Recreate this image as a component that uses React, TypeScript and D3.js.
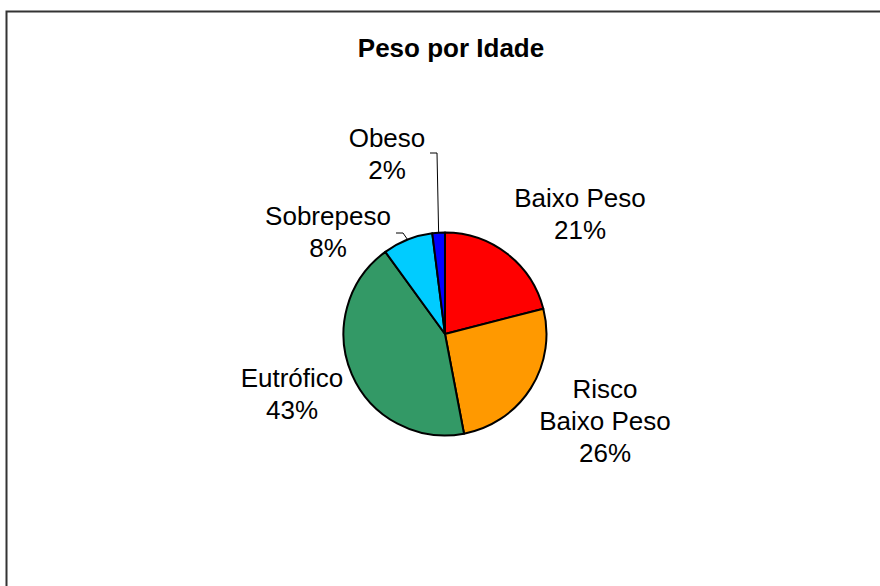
import React from "react";
import * as d3 from "d3";

const categories = ["Baixo Peso", "Risco Baixo Peso", "Eutrófico", "Sobrepeso", "Obeso"];
const values = [21, 26, 43, 8, 2];
const colors = ["#FF0000", "#FF9900", "#339966", "#00CCFF", "#0000FF"];
const labelLines = [["Baixo Peso"], ["Risco", "Baixo Peso"], ["Eutrófico"], ["Sobrepeso"], ["Obeso"]];

const W = 880;
const H = 586;
const CX = 445;
const CY = 334;
const R = 101.5;
const LINE = 32;

// label layout: center x and first baseline y, plus optional leader-line start
const labelLayout = [
  { x: 580, y: 207, leader: null },
  { x: 605, y: 398, leader: null },
  { x: 292, y: 387, leader: null },
  { x: 328, y: 225, leader: { x0: 396, y0: 233, x1: 403 } },
  { x: 387, y: 147, leader: { x0: 430, y0: 153, x1: 437 } },
];

export default function App() {
  const pie = d3.pie<number>().sort(null).value((d) => d);
  const arcs = pie(values);
  const arc = d3.arc<d3.PieArcDatum<number>>().innerRadius(0).outerRadius(R);
  const total = d3.sum(values);
  const font = "'Liberation Sans', Arial, Helvetica, sans-serif";

  return (
    <svg
      width={W}
      height={H}
      style={{ position: "absolute", left: 0, top: 0, display: "block", background: "#fff" }}
    >
      <rect x={0} y={0} width={W} height={H} fill="#fff" />
      <path d={`M6.5,${H} L6.5,11.5 L${W},11.5`} fill="none" stroke="#333" strokeWidth={2} />
      <text
        x={451}
        y={57}
        textAnchor="middle"
        fontFamily={font}
        fontWeight="bold"
        fontSize={26}
        fill="#000"
      >
        Peso por Idade
      </text>
      <g transform={`translate(${CX},${CY})`}>
        {arcs.map((a, i) => (
          <path key={categories[i]} d={arc(a) || ""} fill={colors[i]} stroke="#000" strokeWidth={2} strokeLinejoin="round" />
        ))}
      </g>
      {arcs.map((a, i) => {
        const L = labelLayout[i];
        const mid = (a.startAngle + a.endAngle) / 2;
        const ex = CX + R * Math.sin(mid);
        const ey = CY - R * Math.cos(mid);
        const pct = `${Math.round((values[i] / total) * 100)}%`;
        const lines = [...labelLines[i], pct];
        return (
          <g key={"l" + i}>
            {L.leader && (
              <polyline
                points={`${L.leader.x0},${L.leader.y0} ${L.leader.x1},${L.leader.y0} ${ex},${ey}`}
                fill="none"
                stroke="#000"
                strokeWidth={1}
              />
            )}
            <text textAnchor="middle" fontFamily={font} fontSize={26} fill="#000">
              {lines.map((t, j) => (
                <tspan key={j} x={L.x} y={L.y + j * LINE}>
                  {t}
                </tspan>
              ))}
            </text>
          </g>
        );
      })}
    </svg>
  );
}
